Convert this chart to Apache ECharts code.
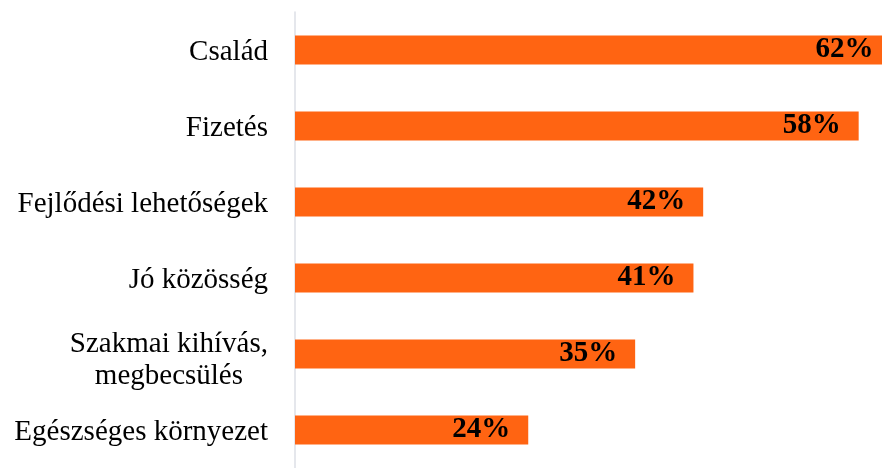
<!DOCTYPE html>
<html>
<head>
<meta charset="utf-8">
<script src="https://cdn.jsdelivr.net/npm/echarts@6/dist/echarts.min.js"></script>
<style>
html, body { margin: 0; padding: 0; background: #fff; }
#echart { width: 882px; height: 468px; }
</style>
</head>
<body>
<div id="echart"></div>
<script>
// adatok
const categories = ['Család', 'Fizetés', 'Fejlődési lehetőségek', 'Jó közösség', 'Szakmai kihívás,\nmegbecsülés', 'Egészséges környezet']
const values = [62, 58, 42, 41, 35, 24]

const myChart = echarts.init(document.getElementById('echart'))
myChart.setOption({
  animation: false,
  grid: {
    left: 295,
    right: 0,
    top: 12,
    bottom: -7
  },
  xAxis: {
    type: 'value',
    min: 0,
    max: 60.4,
    show: false
  },
  yAxis: {
    type: 'category',
    inverse: true,
    data: categories,
    axisTick: { show: false },
    axisLine: {
      lineStyle: { color: '#dcdfe6', width: 1.5 }
    },
    axisLabel: {
      margin: 27,
      color: '#000',
      fontFamily: 'Liberation Serif',
      fontSize: 29,
      lineHeight: 32,
      padding: [5, 0, 0, 0],
      formatter: function (v) {
        const lines = v.split('\n')
        if (lines.length > 1) {
          return lines.map(function (s) { return '{m|' + s + '}' }).join('\n')
        }
        return '{c|' + v + '}'
      },
      rich: {
        c: {
          align: 'center',
          color: '#000',
          fontFamily: 'Liberation Serif',
          fontSize: 29,
          lineHeight: 32
        },
        // a kétsoros felirat kicsit lejjebb van
        m: {
          align: 'center',
          color: '#000',
          fontFamily: 'Liberation Serif',
          fontSize: 29,
          lineHeight: 32,
          padding: [8, 0, 0, 0]
        }
      }
    }
  },
  series: [{
    type: 'bar',
    data: values.map(function (v, i) {
      // a levágott első sáv címkéje beljebb van
      return i === 0 ? { value: v, label: { distance: 24 } } : v
    }),
    barWidth: 29,
    clip: false,
    itemStyle: { color: '#ff6412' },
    label: {
      show: true,
      position: 'insideRight',
      distance: 18,
      formatter: '{c}%',
      color: '#000',
      fontFamily: 'Liberation Serif',
      fontWeight: 'bold',
      fontSize: 29
    }
  }]
})
</script>
</body>
</html>
